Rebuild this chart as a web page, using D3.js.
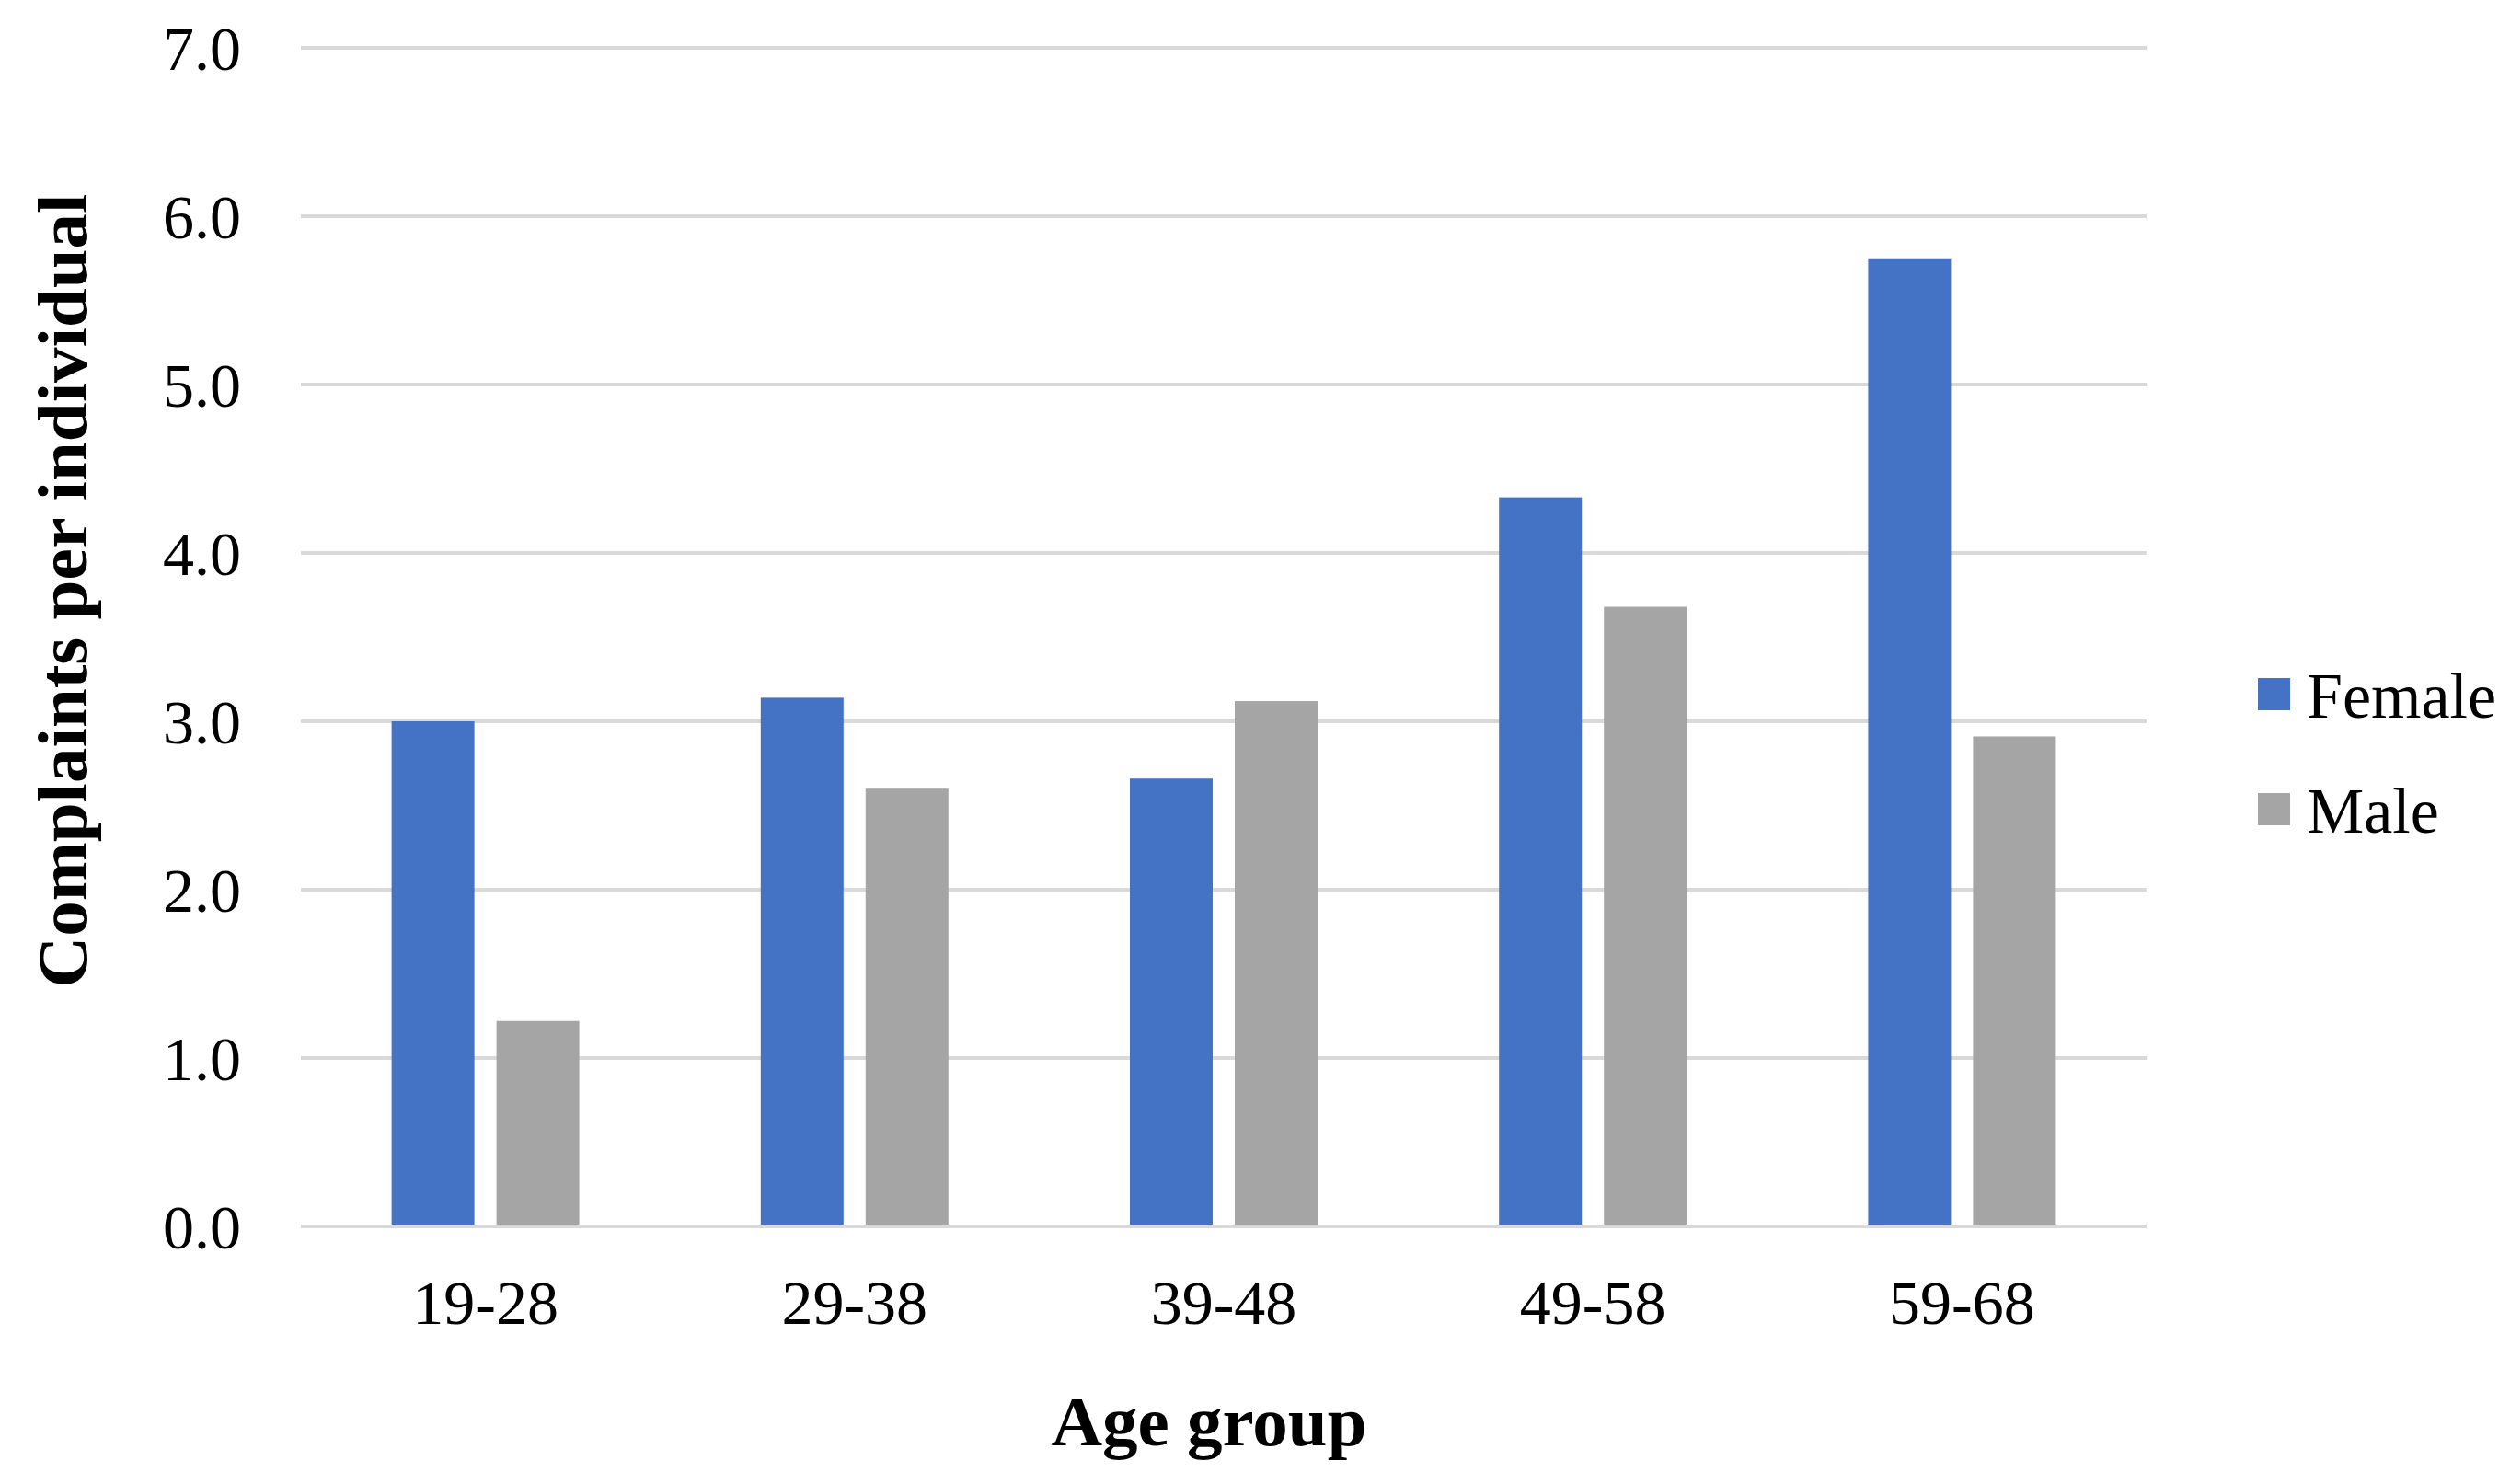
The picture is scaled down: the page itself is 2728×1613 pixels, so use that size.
<!DOCTYPE html>
<html>
<head>
<meta charset="utf-8">
<script src="https://d3js.org/d3.v7.min.js"></script>
<style>
  html, body { margin: 0; padding: 0; background: #fff; }
  svg { display: block; font-family: "Liberation Serif", "Times New Roman", serif; }
</style>
</head>
<body>
<div id="chart"></div>
<script>
// data
var ageGroups = ["19-28", "29-38", "39-48", "49-58", "59-68"];
var seriesNames = ["Female", "Male"];
var femaleValues = [3.00, 3.14, 2.66, 4.33, 5.75];
var maleValues = [1.22, 2.60, 3.12, 3.68, 2.91];
var yTicks = [0, 1, 2, 3, 4, 5, 6, 7];
var colors = ["#4472C4", "#A5A5A5"];

var W = 2728, H = 1613;
var margin = {top: 52, right: 395, bottom: 280, left: 327};
var width = W - margin.left - margin.right,
    height = H - margin.top - margin.bottom;

var svg = d3.select("#chart")
  .append("svg")
    .attr("width", W)
    .attr("height", H);

var g = svg.append("g")
    .attr("transform", "translate(" + margin.left + "," + margin.top + ")");

var rows = ageGroups.map(function(a, i) {
  return {group: a, values: [femaleValues[i], maleValues[i]]};
});

// scales
var x0 = d3.scaleBand()
  .domain(ageGroups)
  .range([0, width]);

var x1 = d3.scaleBand()
  .domain(seriesNames)
  .range([0, x0.bandwidth()])
  .paddingInner(0.2105)
  .paddingOuter(0.865);

var y = d3.scaleLinear()
  .domain([0, 7])
  .range([height, 0]);

// gridlines
g.append("g")
  .selectAll("line")
  .data(yTicks)
  .enter()
  .append("line")
    .attr("x1", 0)
    .attr("x2", width)
    .attr("y1", function(d) { return y(d); })
    .attr("y2", function(d) { return y(d); })
    .attr("stroke", "#D9D9D9")
    .attr("stroke-width", 4);

// y axis labels
var yAxis = g.append("g")
  .call(d3.axisLeft(y).tickValues(yTicks).tickFormat(d3.format(".1f")).tickSize(0).tickPadding(65));
yAxis.select(".domain").remove();
yAxis.selectAll("text")
  .attr("font-family", "Liberation Serif")
  .style("font-size", "68px")
  .attr("fill", "#000")
  .attr("dy", "0.34em");

// bars
g.append("g")
  .selectAll("g")
  .data(rows)
  .enter()
  .append("g")
    .attr("transform", function(d) { return "translate(" + x0(d.group) + ",0)"; })
  .selectAll("rect")
  .data(function(d) { return d.values.map(function(v, i) { return {name: seriesNames[i], value: v, idx: i}; }); })
  .enter()
  .append("rect")
    .attr("x", function(d) { return x1(d.name); })
    .attr("y", function(d) { return y(d.value); })
    .attr("width", x1.bandwidth())
    .attr("height", function(d) { return height - y(d.value) - 2; })
    .attr("fill", function(d) { return colors[d.idx]; });

// x axis labels
var xAxis = g.append("g")
  .attr("transform", "translate(0," + height + ")")
  .call(d3.axisBottom(x0).tickSize(0).tickPadding(58));
xAxis.select(".domain").remove();
xAxis.selectAll("text")
  .attr("font-family", "Liberation Serif")
  .style("font-size", "68px")
  .attr("fill", "#000");

// axis titles
svg.append("text")
  .attr("x", 1314)
  .attr("y", 1571)
  .attr("text-anchor", "middle")
  .style("font-size", "77px")
  .style("font-weight", "bold")
  .text("Age group");

svg.append("text")
  .attr("transform", "translate(94,642) rotate(-90)")
  .attr("text-anchor", "middle")
  .style("font-size", "77px")
  .style("font-weight", "bold")
  .text("Complaints per individual");

// legend
var legend = svg.append("g")
  .attr("transform", "translate(2454,737)");

var items = legend.selectAll("g")
  .data(seriesNames)
  .enter()
  .append("g")
    .attr("transform", function(d, i) { return "translate(0," + (i * 125) + ")"; });

items.append("rect")
  .attr("width", 35)
  .attr("height", 35)
  .attr("fill", function(d, i) { return colors[i]; });

items.append("text")
  .attr("x", 53)
  .attr("y", 43)
  .style("font-size", "70px")
  .text(function(d) { return d; });
</script>
</body>
</html>
